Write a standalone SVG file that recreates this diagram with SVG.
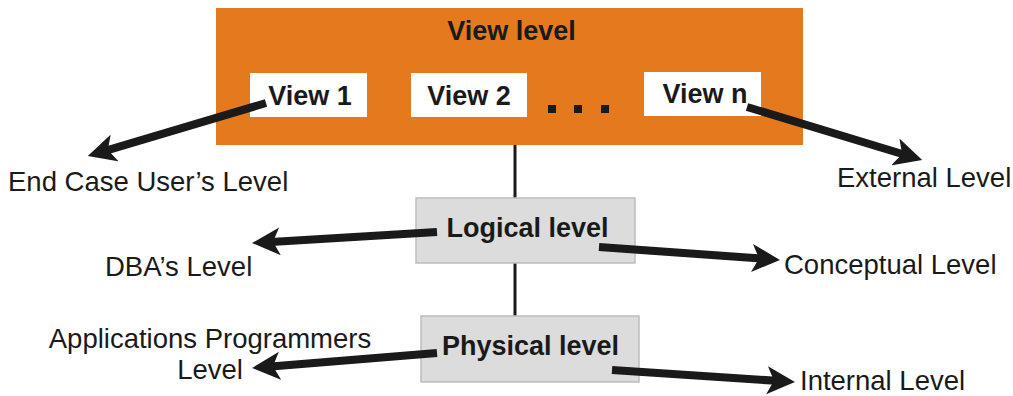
<svg xmlns="http://www.w3.org/2000/svg" width="1013" height="396" viewBox="0 0 1013 396">
  <style>
    .bold { font-family: "Liberation Sans", Arial, sans-serif; font-weight: bold; font-size: 27px; fill: #1a1a1a; text-anchor: middle; }
    .lbl { font-family: "Liberation Sans", Arial, sans-serif; font-size: 27.5px; fill: #1a1a1a; }
    .view { fill: #ffffff; }
    .grey { fill: #dcdcdc; stroke: #bdbdbd; stroke-width: 1.5; }
    .link { stroke: #1a1a1a; stroke-width: 3; fill: none; }
    .arrow { stroke: #1a1a1a; stroke-width: 8; fill: none; marker-end: url(#head); }
  </style>
  <defs>
    <marker id="head" markerUnits="userSpaceOnUse" markerWidth="30" markerHeight="28" viewBox="0 0 30 28" refX="9" refY="14" orient="auto">
      <path d="M0,0 L28,14 L0,28 L7,14 z" fill="#1a1a1a"/>
    </marker>
  </defs>

  <rect width="1013" height="396" fill="#ffffff"/>

  <!-- vertical links between levels -->
  <g id="links">
    <line class="link" x1="515" y1="145" x2="515" y2="198"/>
    <line class="link" x1="515" y1="263" x2="515" y2="316"/>
  </g>

  <!-- view level block with its individual views -->
  <g id="view-level">
    <rect x="216" y="8" width="587" height="137" fill="#e5791d"/>
    <text class="bold" x="511.5" y="40">View level</text>
  </g>
  <g id="view-1">
    <rect class="view" x="250" y="73" width="117" height="44"/>
    <text class="bold" x="310" y="105">View 1</text>
  </g>
  <g id="view-2">
    <rect class="view" x="411" y="73" width="116" height="44"/>
    <text class="bold" x="469" y="105">View 2</text>
  </g>
  <g id="ellipsis">
    <rect x="548" y="105" width="8" height="8" fill="#1a1a1a"/>
    <rect x="574" y="105" width="8" height="8" fill="#1a1a1a"/>
    <rect x="601" y="105" width="8" height="8" fill="#1a1a1a"/>
  </g>
  <g id="view-n">
    <rect class="view" x="644" y="72" width="117" height="44"/>
    <text class="bold" x="705" y="103">View n</text>
  </g>

  <g id="logical-level">
    <rect class="grey" x="416" y="198" width="219" height="65"/>
    <text class="bold" x="527.5" y="237">Logical level</text>
  </g>
  <g id="physical-level">
    <rect class="grey" x="421" y="316" width="218" height="66"/>
    <text class="bold" x="530.5" y="355">Physical level</text>
  </g>

  <!-- arrows from each level to its audience / schema name -->
  <g id="connectors">
    <line class="arrow" x1="266" y1="103" x2="106" y2="150.6"/>
    <line class="arrow" x1="747" y1="107" x2="904" y2="154.5"/>
    <line class="arrow" x1="437" y1="232" x2="271" y2="241.9"/>
    <line class="arrow" x1="599" y1="247" x2="761" y2="258.6"/>
    <line class="arrow" x1="437" y1="353" x2="271" y2="366.5"/>
    <line class="arrow" x1="612" y1="370" x2="776" y2="380.8"/>
  </g>

  <g id="labels">
    <text class="lbl" x="8" y="191">End Case User’s Level</text>
    <text class="lbl" x="837" y="187">External Level</text>
    <text class="lbl" x="105" y="276">DBA’s Level</text>
    <text class="lbl" x="784" y="274">Conceptual Level</text>
    <text class="lbl" x="210" y="348" text-anchor="middle">Applications Programmers</text>
    <text class="lbl" x="210" y="379" text-anchor="middle">Level</text>
    <text class="lbl" x="800" y="390">Internal Level</text>
  </g>
</svg>
